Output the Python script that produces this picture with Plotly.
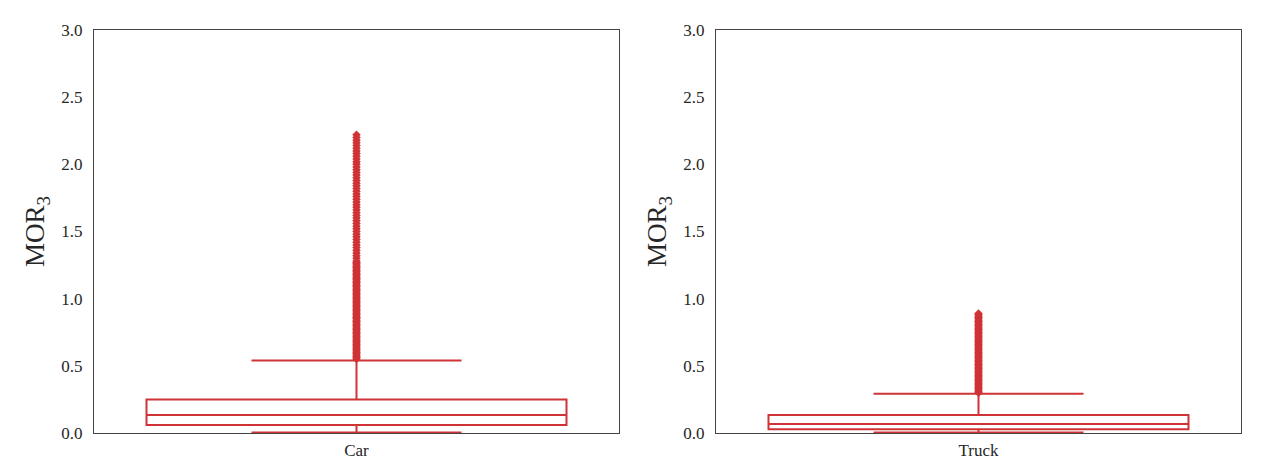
import plotly.graph_objects as go
from plotly.subplots import make_subplots

# ---- data ----
categories = ["Car", "Truck"]
q1 = [0.060, 0.027]
median = [0.134, 0.067]
q3 = [0.249, 0.134]
lower_fence = [0.004, 0.003]
upper_fence = [0.540, 0.293]

car_outliers = [
    0.55, 0.56, 0.57, 0.58, 0.59, 0.60, 0.61, 0.62, 0.63, 0.64, 0.65, 0.66,
    0.67, 0.68, 0.69, 0.70, 0.71, 0.72, 0.73, 0.74, 0.75, 0.76, 0.77, 0.78,
    0.79, 0.80, 0.81, 0.82, 0.83, 0.84, 0.85, 0.86, 0.87, 0.88, 0.89, 0.90,
    0.91, 0.92, 0.93, 0.94, 0.95, 0.96, 0.97, 0.98, 0.99, 1.00, 1.01, 1.02,
    1.03, 1.04, 1.05, 1.06, 1.07, 1.08, 1.09, 1.10, 1.11, 1.12, 1.13, 1.14,
    1.15, 1.16, 1.17, 1.18, 1.19, 1.20, 1.21, 1.22, 1.23, 1.24, 1.25, 1.26,
    1.27, 1.28, 1.30, 1.32, 1.34, 1.36, 1.38, 1.40, 1.42, 1.44, 1.46, 1.48,
    1.50, 1.52, 1.54, 1.56, 1.58, 1.60, 1.62, 1.64, 1.66, 1.68, 1.70, 1.72,
    1.74, 1.76, 1.78, 1.80, 1.82, 1.84, 1.86, 1.88, 1.90, 1.92, 1.94, 1.96,
    1.98, 2.00, 2.02, 2.04, 2.06, 2.08, 2.10, 2.12, 2.14, 2.16, 2.18, 2.20,
    2.22,
]
truck_outliers = [
    0.30, 0.31, 0.32, 0.33, 0.34, 0.35, 0.36, 0.37, 0.38, 0.39, 0.40, 0.41,
    0.42, 0.43, 0.44, 0.45, 0.46, 0.47, 0.48, 0.49, 0.50, 0.51, 0.52, 0.53,
    0.54, 0.55, 0.56, 0.57, 0.58, 0.59, 0.60, 0.61, 0.62, 0.63, 0.64, 0.65,
    0.66, 0.67, 0.68, 0.69, 0.70, 0.71, 0.72, 0.73, 0.74, 0.75, 0.76, 0.77,
    0.78, 0.79, 0.80, 0.81, 0.82, 0.83, 0.84, 0.85, 0.86, 0.87, 0.88, 0.89,
]
outliers = [car_outliers, truck_outliers]

y_ticks = [0.0, 0.5, 1.0, 1.5, 2.0, 2.5, 3.0]
y_title = "MOR<sub>3</sub>"

# ---- styling ----
RED = "#cf3336"
AXIS = "#444444"
TEXT = "#262626"
FONT = "Liberation Serif, Times New Roman, serif"

# page body has an 8px margin, so the figure is laid out relative to (8, 8)
W, H = 1249, 459

fig = make_subplots(rows=1, cols=2, horizontal_spacing=0.08)

for i, cat in enumerate(categories):
    col = i + 1
    fig.add_trace(
        go.Box(
            x=[cat],
            q1=[q1[i]],
            median=[median[i]],
            q3=[q3[i]],
            lowerfence=[lower_fence[i]],
            upperfence=[upper_fence[i]],
            width=0.8,
            whiskerwidth=0.5,
            line=dict(color=RED, width=2),
            fillcolor="rgba(0,0,0,0)",
            boxpoints=False,
            showlegend=False,
            hoverinfo="skip",
        ),
        row=1, col=col,
    )
    fig.add_trace(
        go.Scatter(
            x=[cat] * len(outliers[i]),
            y=outliers[i],
            mode="markers",
            marker=dict(symbol="diamond", size=6.5, color=RED,
                        line=dict(width=0)),
            showlegend=False,
            hoverinfo="skip",
        ),
        row=1, col=col,
    )

domains = [[86 / W, 611 / W], [708 / W, 1233 / W]]
for i in range(2):
    xa = "xaxis" if i == 0 else "xaxis2"
    ya = "yaxis" if i == 0 else "yaxis2"
    fig.layout[xa].update(
        domain=domains[i],
        showline=True, mirror=True, linecolor=AXIS, linewidth=1,
        showgrid=False, zeroline=False, ticks="",
        tickfont=dict(family=FONT, size=17, color=TEXT),
        ticklabelstandoff=2,
        range=[-0.5, 0.5],
    )
    fig.layout[ya].update(
        domain=[0, 1],
        range=[0, 3],
        tickvals=y_ticks,
        ticktext=[f"{v:.1f}" for v in y_ticks],
        showline=True, mirror=True, linecolor=AXIS, linewidth=1,
        showgrid=False, zeroline=False, ticks="",
        tickfont=dict(family=FONT, size=17, color=TEXT),
        ticklabelstandoff=7,
        title=dict(text=y_title, font=dict(family=FONT, size=27, color=TEXT),
                   standoff=8),
    )

fig.update_layout(
    width=W, height=H,
    margin=dict(l=0, r=0, t=22, b=34),
    plot_bgcolor="white", paper_bgcolor="white",
    font=dict(family=FONT),
)

fig.write_html("out.html")
